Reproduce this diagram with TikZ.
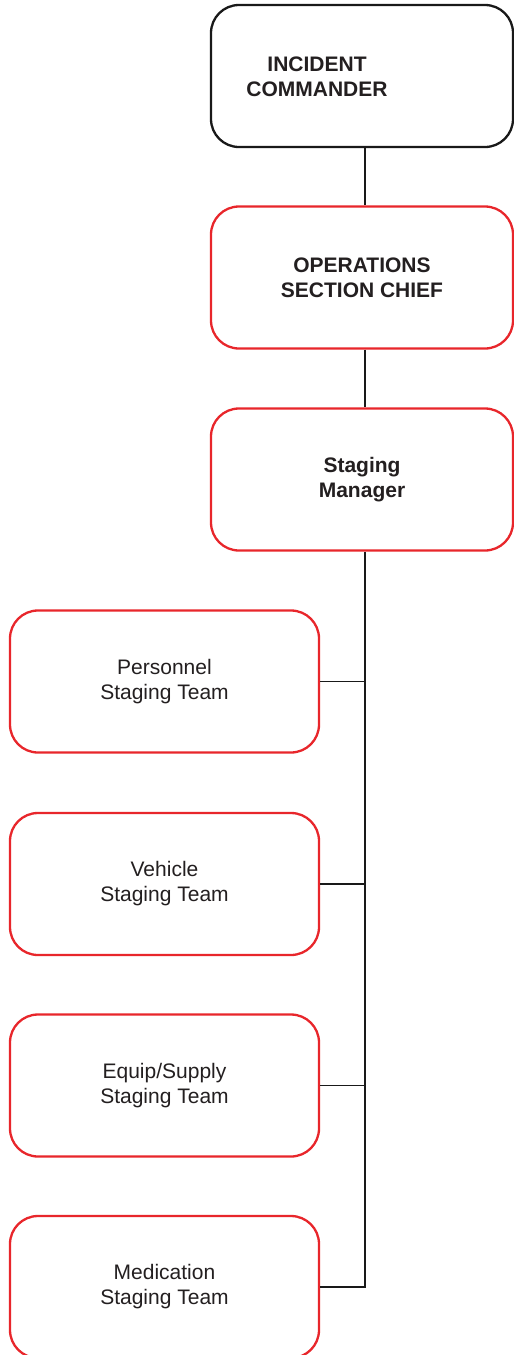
\documentclass[tikz,border=0pt]{standalone}
\usepackage{fontspec}
\setmainfont{Liberation Sans}
\definecolor{boxred}{HTML}{E8262B}
\definecolor{txt}{HTML}{231F20}
\begin{document}
\begin{tikzpicture}[x=1pt,y=-1pt,
  box/.style={draw=boxred, line width=2.3pt, rounded corners=28pt, fill=white,
    minimum height=142pt, inner sep=0pt, align=center, text=txt,
    font=\fontsize{21}{25}\selectfont},
  topbox/.style={box, minimum width=302pt, font=\fontsize{21}{25}\selectfont\bfseries},
  teambox/.style={box, minimum width=309pt},
  link/.style={draw=black!90, line width=1.1pt}]
\useasboundingbox (0,0) rectangle (514,1355);
\coordinate (spine) at (365,0);
\node[topbox, draw=black!90] (ic) at (362,76) {};
\node[text=txt, align=center, font=\fontsize{21}{25}\selectfont\bfseries] (ictext) at (317,77) {INCIDENT\\COMMANDER};
\node[topbox] (ops) at (362,277.5) {OPERATIONS\\SECTION CHIEF};
\node[topbox] (sm) at (362,479.5) {Staging\\Manager};
\node[teambox] (pst) at (164.5,681.5) {Personnel\\Staging Team};
\node[teambox] (vst) at (164.5,884) {Vehicle\\Staging Team};
\node[teambox] (est) at (164.5,1085.5) {Equip/Supply\\Staging Team};
\node[teambox] (mst) at (164.5,1287) {Medication\\Staging Team};
\draw[link] (ic.south -| spine) -- (ops.north -| spine);
\draw[link] (ops.south -| spine) -- (sm.north -| spine);
\draw[link] (sm.south -| spine) -- (spine |- mst.east) -- (mst.east);
\draw[link] (pst.east) -- (pst.east -| spine);
\draw[link] (vst.east) -- (vst.east -| spine);
\draw[link] (est.east) -- (est.east -| spine);
\end{tikzpicture}
\end{document}
